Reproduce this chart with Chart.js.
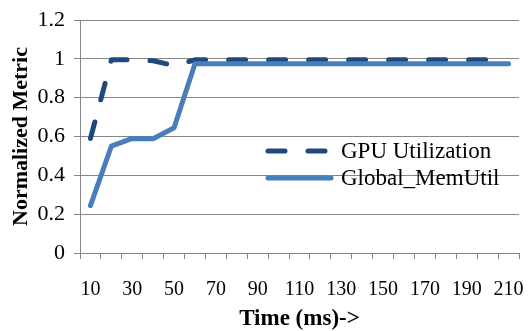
<!DOCTYPE html>
<html>
<head>
<meta charset="utf-8">
<script src="https://cdn.jsdelivr.net/npm/chart.js@4"></script>
<style>
  html, body { margin: 0; padding: 0; background: #ffffff; }
  #wrap { width: 528px; height: 331px; }
</style>
</head>
<body>
<div id="wrap"><canvas id="c" width="528" height="331"></canvas></div>
<script>
// ---- data ----
const timeLabels = ['10','20','30','40','50','60','70','80','90','100','110','120','130','140','150','160','170','180','190','200','210'];
const gpuUtilization = [0.59, 0.995, 0.995, 0.99, 0.965, 0.995, 0.995, 0.995, 0.995, 0.995, 0.995, 0.995, 0.995, 0.995, 0.995, 0.995, 0.995, 0.995, 0.995, 0.995, 0.995];
const globalMemUtil = [0.244, 0.55, 0.59, 0.588, 0.645, 0.975, 0.975, 0.975, 0.975, 0.975, 0.975, 0.975, 0.975, 0.975, 0.975, 0.975, 0.975, 0.975, 0.975, 0.975, 0.975];
const seriesNames = ['GPU Utilization', 'Global_MemUtil'];
const yTicks = [0, 0.2, 0.4, 0.6, 0.8, 1, 1.2];
const xTitle = 'Time (ms)->';
const yTitle = 'Normalized Metric';

const FONT = "'Liberation Serif', 'Times New Roman', serif";
const GRID = '#868686';
const GPU_COLOR = '#1F497D';
const MEM_COLOR = '#4A7EBB';

// legend drawn inside the plot area (transparent, like the original)
const insideLegend = {
  id: 'insideLegend',
  afterDatasetsDraw(chart) {
    const ctx = chart.ctx;
    const rows = [
      { ds: chart.data.datasets[0], y: 151 },
      { ds: chart.data.datasets[1], y: 178 }
    ];
    ctx.save();
    rows.forEach(r => {
      ctx.beginPath();
      ctx.lineWidth = r.ds.borderWidth;
      ctx.strokeStyle = r.ds.borderColor;
      ctx.lineCap = 'round';
      ctx.setLineDash(r.ds.borderDash || []);
      ctx.lineDashOffset = 0;
      ctx.moveTo(268, r.y);
      ctx.lineTo(331, r.y);
      ctx.stroke();
      ctx.setLineDash([]);
      ctx.fillStyle = '#000000';
      ctx.font = '23px ' + FONT;
      ctx.textAlign = 'left';
      ctx.textBaseline = 'middle';
      ctx.fillText(r.ds.label, 341, r.y + 1);
    });
    ctx.restore();
  }
};

new Chart(document.getElementById('c'), {
  type: 'line',
  data: {
    labels: timeLabels,
    datasets: [
      {
        label: seriesNames[0],
        data: gpuUtilization,
        borderColor: GPU_COLOR,
        backgroundColor: GPU_COLOR,
        borderWidth: 5,
        borderDash: [17, 23],
        borderCapStyle: 'round',
        borderJoinStyle: 'round',
        pointRadius: 0,
        tension: 0,
        order: 1
      },
      {
        label: seriesNames[1],
        data: globalMemUtil,
        borderColor: MEM_COLOR,
        backgroundColor: MEM_COLOR,
        borderWidth: 5,
        borderCapStyle: 'round',
        borderJoinStyle: 'round',
        pointRadius: 0,
        tension: 0,
        order: 0
      }
    ]
  },
  options: {
    responsive: false,
    animation: false,
    devicePixelRatio: 1,
    layout: { padding: { top: 20, right: 9, left: 0, bottom: 0 } },
    plugins: {
      legend: { display: false },
      tooltip: { enabled: false }
    },
    scales: {
      x: {
        type: 'category',
        offset: true,
        afterFit(scale) {
          scale.height = 78;
          scale.paddingLeft = 0;
          scale.paddingRight = 0;
        },
        grid: {
          display: true,
          drawOnChartArea: false,
          drawTicks: true,
          tickLength: 6,
          color: GRID,
          lineWidth: 1,
          offset: true
        },
        border: { display: true, color: GRID, width: 1 },
        ticks: {
          autoSkip: false,
          maxRotation: 0,
          minRotation: 0,
          padding: 19,
          color: '#000000',
          font: { family: FONT, size: 20 },
          callback: function(value, index) { return index % 2 === 0 ? timeLabels[index] : ''; }
        },
        title: {
          display: true,
          text: xTitle,
          color: '#000000',
          font: { family: FONT, size: 23, weight: 'bold', lineHeight: 1.0 },
          padding: { top: 0, bottom: 0 }
        }
      },
      y: {
        min: yTicks[0],
        max: yTicks[yTicks.length - 1],
        afterFit(scale) {
          scale.width = 80;
          scale.paddingTop = 0;
          scale.paddingBottom = 0;
        },
        afterBuildTicks(scale) { scale.ticks = yTicks.map(v => ({ value: v })); },
        grid: {
          display: true,
          drawOnChartArea: true,
          drawTicks: true,
          tickLength: 6,
          color: GRID,
          lineWidth: 1
        },
        border: { display: true, color: GRID, width: 1 },
        ticks: {
          padding: 9,
          color: '#000000',
          font: { family: FONT, size: 22 },
          callback: function(value) { return String(parseFloat(Number(value).toFixed(1))); }
        },
        title: {
          display: true,
          text: yTitle,
          color: '#000000',
          font: { family: FONT, size: 22, weight: 'bold', lineHeight: 1.0 },
          padding: { top: 10, bottom: 0 }
        }
      }
    }
  },
  plugins: [insideLegend]
});
</script>
</body>
</html>
